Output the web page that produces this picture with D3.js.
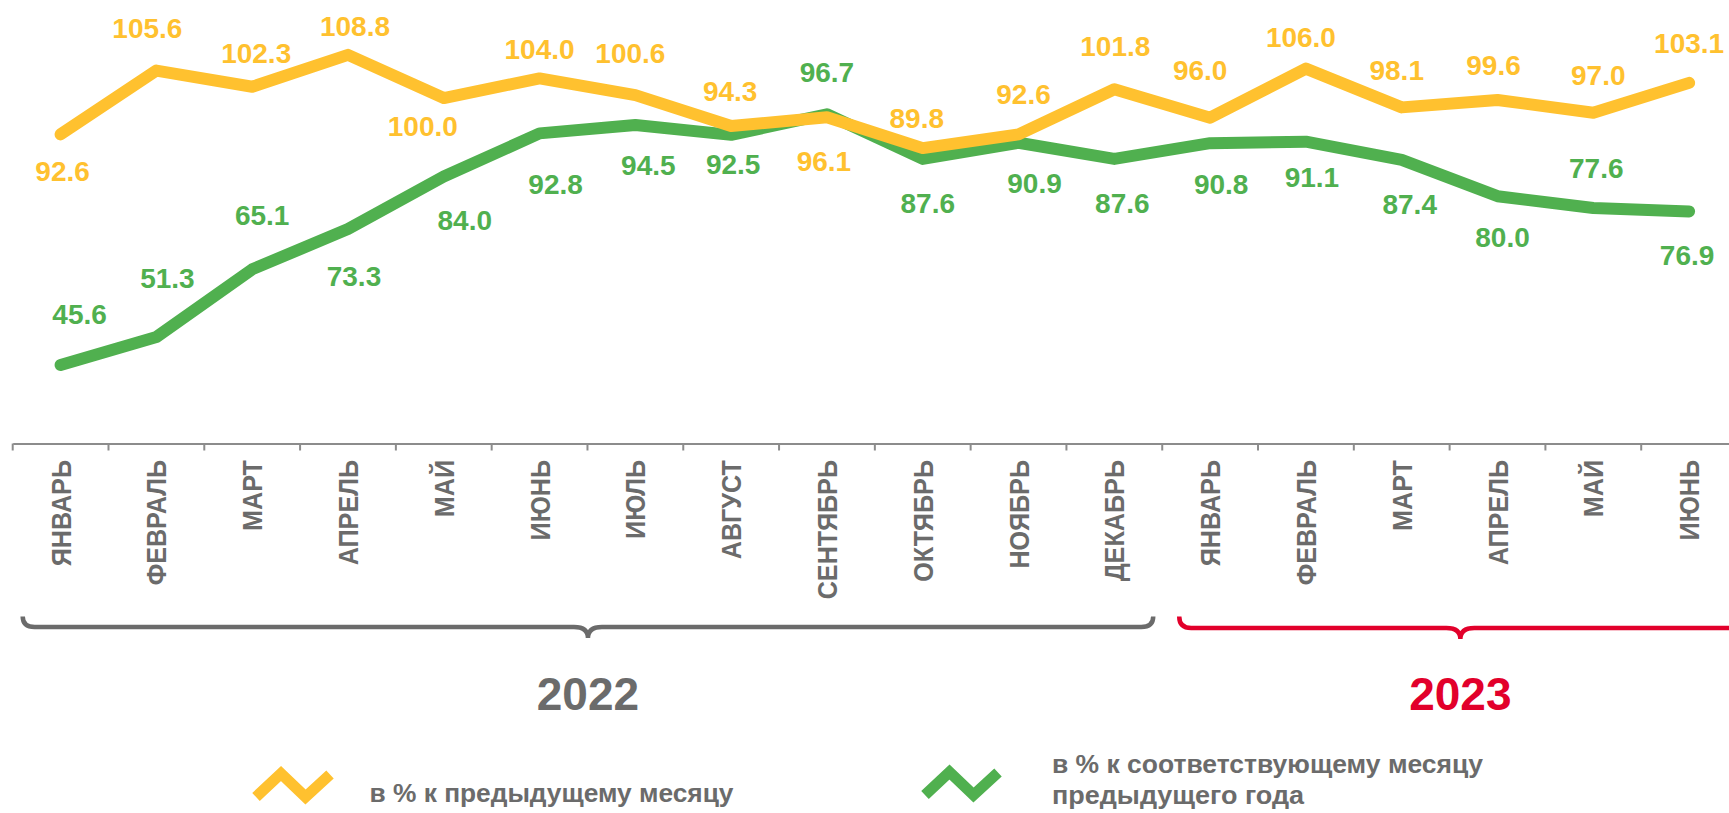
<!DOCTYPE html>
<html>
<head>
<meta charset="utf-8">
<script src="https://cdn.jsdelivr.net/npm/d3@7"></script>
<style>
    html, body { margin: 0; padding: 0; background: #ffffff; }
    #chart { width: 1729px; height: 813px; overflow: hidden; }
    text { font-family: "Liberation Sans", Arial, sans-serif; font-weight: bold; }
</style>
</head>
<body>
<div id="chart"></div>
<script>
// месяцы по оси X
const months = ['ЯНВАРЬ', 'ФЕВРАЛЬ', 'МАРТ', 'АПРЕЛЬ', 'МАЙ', 'ИЮНЬ', 'ИЮЛЬ', 'АВГУСТ', 'СЕНТЯБРЬ',
    'ОКТЯБРЬ', 'НОЯБРЬ', 'ДЕКАБРЬ', 'ЯНВАРЬ', 'ФЕВРАЛЬ', 'МАРТ', 'АПРЕЛЬ', 'МАЙ', 'ИЮНЬ'];

// в % к предыдущему месяцу
const prevMonth = [92.6, 105.6, 102.3, 108.8, 100.0, 104.0, 100.6, 94.3, 96.1,
    89.8, 92.6, 101.8, 96.0, 106.0, 98.1, 99.6, 97.0, 103.1];

// в % к соответствующему месяцу предыдущего года
const prevYear = [45.6, 51.3, 65.1, 73.3, 84.0, 92.8, 94.5, 92.5, 96.7,
    87.6, 90.9, 87.6, 90.8, 91.1, 87.4, 80.0, 77.6, 76.9];

// годы и сколько месяцев в каждом
const years = ['2022', '2023'];
const yearMonths = [12, 6];

const legendLabels = ['в % к предыдущему месяцу', 'в % к соответствующему месяцу', 'предыдущего года'];

// смещения подписей значений относительно точки [dx, dy]
const prevMonthLabelShift = [[2, 37], [-9, -43], [4, -34], [7, -29], [-21, 28], [0, -30], [-5, -42], [-1, -35], [-3, 44],
    [-6, -30], [5, -40], [1, -43], [-10, -48], [-5, -32], [-5, -37], [-4, -35], [5, -38], [0, -40]];
const prevYearLabelShift = [[19, -51], [11, -59], [10, -54], [6, 47], [21, 43], [16, 51], [13, 40], [2, 29], [0, -42],
    [5, 44], [16, 40], [8, 44], [11, 41], [6, 35], [8, 44], [5, 41], [3, -40], [-2, 44]];

class MonthlyIndexChart {
    constructor(containerId, width = 1729, height = 813) {
        this.containerId = containerId;
        this.width = width;
        this.height = height;
        this.colors = { yellow: '#ffc12f', green: '#50b04f', gray: '#6b6b6b', axis: '#8c8c8c', red: '#e2002b' };
    }

    init() {
        this.svg = d3.select(this.containerId)
            .append('svg')
            .attr('width', this.width)
            .attr('height', this.height);

        this.svg.append('rect')
            .attr('width', this.width)
            .attr('height', this.height)
            .attr('fill', '#ffffff');

        // ось уходит чуть за правый край, как в оригинале
        this.x = d3.scaleBand()
            .domain(d3.range(months.length))
            .range([12.7, 1737])
            .padding(0);

        this.y = d3.scaleLinear()
            .domain([30, 110])
            .range([441.5, 49]);
    }

    draw() {
        if (!this.svg) this.init();
        this.drawAxis();
        this.drawSeries(prevYear, this.colors.green, prevYearLabelShift);
        this.drawSeries(prevMonth, this.colors.yellow, prevMonthLabelShift);
        this.drawYears();
        this.drawLegend();
    }

    drawAxis() {
        const x = this.x;
        const axisY = 443.5;

        const axis = d3.axisBottom(x)
            .tickSize(0)
            .tickFormat('');

        const g = this.svg.append('g')
            .attr('transform', `translate(0,${axisY})`)
            .call(axis);
        g.select('.domain')
            .attr('stroke', this.colors.axis)
            .attr('stroke-width', 2);

        // засечки на границах месяцев
        const bounds = d3.range(months.length + 1).map(i => x.range()[0] + i * x.step());
        g.selectAll('.bound')
            .data(bounds)
            .enter()
            .append('line')
            .attr('class', 'bound')
            .attr('x1', d => d)
            .attr('x2', d => d)
            .attr('y1', 0)
            .attr('y2', 7)
            .attr('stroke', this.colors.axis)
            .attr('stroke-width', 2);

        // подписи месяцев, повернутые вертикально
        this.svg.selectAll('.month')
            .data(months)
            .enter()
            .append('text')
            .attr('class', 'month')
            .attr('transform', (d, i) => `translate(${x(i) + x.bandwidth() / 2},460) rotate(-90) scale(0.9,1)`)
            .attr('text-anchor', 'end')
            .attr('dy', '0.36em')
            .attr('fill', this.colors.gray)
            .attr('font-size', '28px')
            .text(d => d);
    }

    drawSeries(values, color, shifts) {
        const x = this.x;
        const y = this.y;
        const cx = i => x(i) + x.bandwidth() / 2;

        const line = d3.line()
            .x((d, i) => cx(i))
            .y(d => y(d));

        this.svg.append('path')
            .datum(values)
            .attr('d', line)
            .attr('fill', 'none')
            .attr('stroke', color)
            .attr('stroke-width', 12)
            .attr('stroke-linecap', 'round')
            .attr('stroke-linejoin', 'round');

        this.svg.append('g')
            .selectAll('text')
            .data(values)
            .enter()
            .append('text')
            .attr('x', (d, i) => cx(i) + shifts[i][0])
            .attr('y', (d, i) => y(d) + shifts[i][1])
            .attr('dy', '0.36em')
            .attr('text-anchor', 'middle')
            .attr('fill', color)
            .attr('font-size', '28px')
            .text(d => d.toFixed(1));
    }

    bracePath(x0, x1, yTop, yLine, yTip, r, rt) {
        const xm = (x0 + x1) / 2;
        return `M${x0},${yTop} Q${x0},${yLine} ${x0 + r},${yLine} L${xm - rt},${yLine} ` +
            `Q${xm},${yLine} ${xm},${yTip} Q${xm},${yLine} ${xm + rt},${yLine} ` +
            `L${x1 - r},${yLine} Q${x1},${yLine} ${x1},${yTop}`;
    }

    drawYears() {
        const x = this.x;
        const yearColors = [this.colors.gray, this.colors.red];
        let start = 0;

        years.forEach((year, k) => {
            const end = start + yearMonths[k];
            const x0 = x.range()[0] + start * x.step() + (k === 0 ? 10 : 17);
            const x1 = x.range()[0] + end * x.step() + (k === 0 ? -9 : 4.5);
            const yLine = k === 0 ? 627 : 628;

            this.svg.append('path')
                .attr('d', this.bracePath(x0, x1, 616.5, yLine, yLine + 11, 12, 14))
                .attr('fill', 'none')
                .attr('stroke', yearColors[k])
                .attr('stroke-width', 4.5);

            this.svg.append('text')
                .attr('x', (x0 + x1) / 2)
                .attr('y', 710)
                .attr('text-anchor', 'middle')
                .attr('fill', yearColors[k])
                .attr('font-size', '46px')
                .text(year);

            start = end;
        });
    }

    drawLegend() {
        const icon = (pts, color) => {
            this.svg.append('polyline')
                .attr('points', pts.map(p => p.join(',')).join(' '))
                .attr('fill', 'none')
                .attr('stroke', color)
                .attr('stroke-width', 11)
                .attr('stroke-linejoin', 'miter');
        };

        icon([[256, 797], [281, 773.5], [305.5, 797], [330, 774.5]], this.colors.yellow);
        icon([[925, 795], [949.5, 772], [973.5, 795], [998, 772.5]], this.colors.green);

        const label = (txt, x, y, len) => {
            this.svg.append('text')
                .attr('x', x)
                .attr('y', y)
                .attr('fill', this.colors.gray)
                .attr('font-size', '26px')
                .attr('textLength', len)
                .attr('lengthAdjust', 'spacingAndGlyphs')
                .text(txt);
        };

        label(legendLabels[0], 369.5, 802, 364);
        label(legendLabels[1], 1052, 773, 431);
        label(legendLabels[2], 1052, 804, 252);
    }
}

const chart = new MonthlyIndexChart('#chart');
chart.draw();
</script>
</body>
</html>
